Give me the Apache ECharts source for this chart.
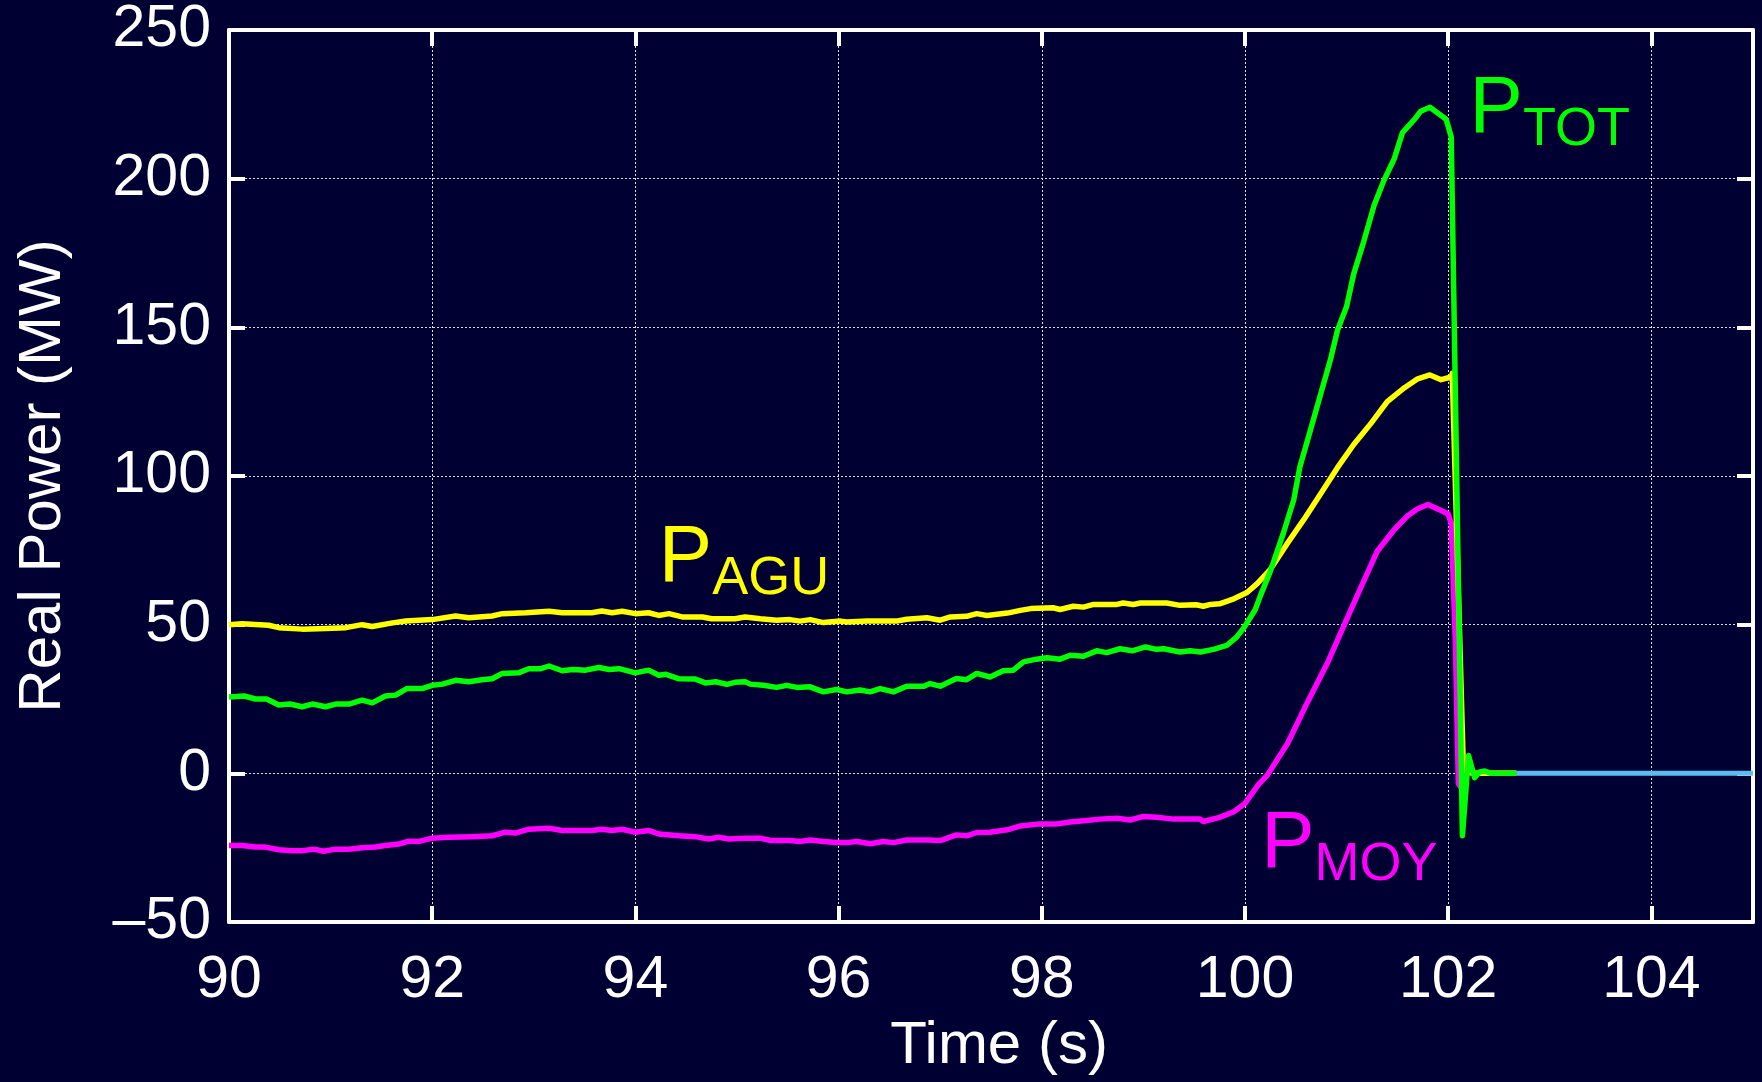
<!DOCTYPE html>
<html>
<head>
<meta charset="utf-8">
<script src="https://cdn.jsdelivr.net/npm/echarts@6/dist/echarts.min.js"></script>
<style>
html,body{margin:0;padding:0;background:#000033;}
#chart{width:1762px;height:1082px;}
</style>
</head>
<body>
<div id="chart"></div>
<script>
// Time (s) vs Real Power (MW)
const xTicks = [90, 92, 94, 96, 98, 100, 102, 104];
const yTicks = [-50, 0, 50, 100, 150, 200, 250];

const pAGU = [[90.0,50],[90.13,50.3],[90.39,49.8],[90.49,49],[90.72,48.5],[90.95,48.7],[91.15,49],[91.31,50],[91.41,49.4],[91.61,50.6],[91.74,51.2],[92.0,51.7],[92.23,52.9],[92.36,52.3],[92.59,52.9],[92.69,53.7],[92.92,54],[93.15,54.5],[93.28,54],[93.57,54],[93.67,54.6],[93.77,54],[93.87,54.5],[94.0,53.7],[94.13,54],[94.23,53.1],[94.33,53.7],[94.46,52.6],[94.66,52.6],[94.75,52],[94.98,52],[95.08,52.6],[95.23,52],[95.39,51.5],[95.52,51.7],[95.62,51.2],[95.72,51.7],[95.85,50.7],[96.02,51.2],[96.08,50.9],[96.28,51.2],[96.57,51.2],[96.67,51.8],[96.87,52.3],[97.0,51.5],[97.1,52.6],[97.26,52.8],[97.36,53.7],[97.46,53.1],[97.66,53.9],[97.79,54.8],[97.89,55.4],[98.11,55.7],[98.18,55.1],[98.31,56.2],[98.41,55.9],[98.51,56.8],[98.74,56.8],[98.8,57.3],[98.9,56.8],[98.97,57.3],[99.23,57.3],[99.36,56.5],[99.52,56.7],[99.59,56.2],[99.66,56.8],[99.75,57],[99.89,58.7],[100.02,60.8],[100.12,63.8],[100.25,68.6],[100.41,77],[100.58,85.4],[100.74,93.8],[100.91,102.8],[101.07,110.6],[101.24,117.7],[101.4,125],[101.57,129.7],[101.7,132.7],[101.82,134],[101.93,132.4],[102.03,133.3],[102.04,134.5],[102.15,1],[102.25,0],[102.67,0]];

const pMOY = [[90,-24.3],[90.13,-24.3],[90.26,-24.8],[90.36,-24.8],[90.49,-25.7],[90.62,-26],[90.72,-26],[90.84,-25.5],[90.93,-26.2],[91.05,-25.5],[91.18,-25.5],[91.31,-25],[91.44,-24.8],[91.54,-24.3],[91.67,-23.8],[91.77,-22.8],[91.87,-22.9],[92.0,-21.8],[92.16,-21.5],[92.39,-21.3],[92.59,-21],[92.72,-19.8],[92.82,-20.1],[92.95,-18.8],[93.15,-18.5],[93.28,-19.2],[93.57,-19.2],[93.67,-18.8],[93.77,-19.2],[93.87,-18.8],[94.0,-19.8],[94.13,-19.2],[94.23,-20.4],[94.43,-21],[94.59,-21.3],[94.72,-22.1],[94.82,-21.5],[94.92,-22.1],[95.08,-21.8],[95.23,-21.8],[95.33,-22.6],[95.52,-22.6],[95.62,-22.9],[95.72,-22.4],[95.85,-22.9],[95.98,-23.3],[96.08,-23.3],[96.18,-22.9],[96.31,-23.7],[96.44,-22.9],[96.54,-23.3],[96.67,-22.4],[96.87,-22.4],[97.0,-22.6],[97.16,-20.7],[97.26,-21],[97.36,-19.9],[97.49,-19.8],[97.66,-19],[97.79,-17.7],[97.98,-17],[98.15,-17],[98.28,-16.4],[98.44,-15.9],[98.57,-15.4],[98.74,-15.1],[98.87,-15.7],[99.0,-14.5],[99.13,-14.8],[99.3,-15.4],[99.56,-15.4],[99.59,-16.2],[99.75,-14.8],[99.89,-12.9],[100.0,-10.1],[100.13,-3.9],[100.22,-0.6],[100.42,10.1],[100.61,23.6],[100.81,37],[100.97,49.4],[101.14,62.5],[101.3,74.6],[101.47,82],[101.6,86.6],[101.7,89],[101.8,90.4],[101.93,88.4],[102.0,87.2],[102.03,84],[102.07,44.6],[102.1,-3.4],[102.13,-5],[102.18,0],[102.67,0]];

const pTOT = [[90,25.7],[90.15,26],[90.26,25],[90.37,25],[90.49,23],[90.6,23.3],[90.72,22.4],[90.82,23.3],[90.95,22.4],[91.05,23.3],[91.18,23.3],[91.31,24.6],[91.41,23.7],[91.54,26],[91.64,26.3],[91.75,28.5],[91.9,28.5],[92.0,29.6],[92.1,30],[92.23,31.3],[92.36,30.8],[92.49,31.5],[92.59,31.8],[92.69,33.6],[92.85,33.8],[92.95,35.2],[93.07,35.2],[93.15,36.1],[93.28,34.5],[93.38,34.9],[93.51,34.7],[93.64,35.6],[93.74,34.9],[93.84,35.2],[94.0,33.8],[94.13,34.7],[94.23,33],[94.3,33.3],[94.43,31.8],[94.59,31.7],[94.69,30.4],[94.79,30.8],[94.9,29.9],[94.98,30.6],[95.08,30.8],[95.13,30],[95.26,29.6],[95.39,28.9],[95.49,29.6],[95.59,28.9],[95.72,29.1],[95.85,27.4],[95.98,28.2],[96.08,27.4],[96.21,28],[96.31,27.4],[96.41,28.5],[96.54,27.4],[96.67,29.3],[96.84,29.3],[96.9,30.2],[97.0,29.3],[97.16,31.9],[97.26,31.5],[97.36,33.6],[97.49,32.4],[97.62,34.5],[97.72,34.7],[97.82,37.5],[97.95,38.4],[98.05,38.9],[98.18,38.4],[98.28,39.7],[98.41,39.4],[98.54,41.2],[98.64,40.6],[98.77,41.9],[98.89,41.2],[99.02,42.5],[99.13,41.7],[99.2,41.9],[99.36,40.8],[99.46,41.2],[99.56,40.8],[99.69,41.7],[99.82,43],[99.92,45.9],[100.0,49.5],[100.1,55],[100.15,59.6],[100.25,68],[100.38,81],[100.48,92],[100.54,103],[100.64,115],[100.74,127],[100.84,139],[100.91,149],[101.0,157],[101.07,168],[101.17,179],[101.27,191],[101.37,199.6],[101.47,206.8],[101.55,215.5],[101.67,220],[101.73,222.7],[101.82,224],[101.9,222],[101.98,220],[102.03,214],[102.14,-21],[102.2,6],[102.26,-1.5],[102.31,0.5],[102.36,0.8],[102.42,0],[102.67,0]];

const pZero = [[102.67,0],[105,0]];

// annotation labels: [main letter, subscript, anchor time, anchor MW (baseline), colour]
const labels = [
  ['P', 'TOT', 102.21, 213.7, '#00ff00'],
  ['P', 'AGU', 94.23, 62.7, '#ffff00'],
  ['P', 'MOY', 100.16, -33.5, '#ff00ff']
];

const FONT = '"Liberation Sans", Arial, Helvetica, sans-serif';
const WHITE = '#ffffff';
const chart = echarts.init(document.getElementById('chart'));

function axisLine() { return {show: true, onZero: false, lineStyle: {color: WHITE, width: 4}}; }
function axisTick() { return {show: true, inside: true, length: 16, lineStyle: {color: WHITE, width: 4}}; }
function gridLine() { return {show: true, lineStyle: {color: '#e0e0e0', width: 1, type: [2, 2]}}; }

const option = {
  backgroundColor: '#000033',
  animation: false,
  grid: {left: 229, top: 30, width: 1524, height: 892, containLabel: false},
  xAxis: [
    {
      type: 'value', position: 'bottom', min: 90, max: 105, interval: 2,
      name: 'Time (s)', nameLocation: 'middle', nameGap: 94,
      nameTextStyle: {color: WHITE, fontSize: 60, fontFamily: FONT, padding: [0, 0, 0, 16]},
      axisLine: axisLine(), axisTick: axisTick(),
      axisLabel: {color: WHITE, fontSize: 59, fontFamily: FONT, margin: 29, showMaxLabel: false,
        formatter: v => (xTicks.indexOf(v) >= 0 ? String(v) : '')},
      splitLine: gridLine()
    },
    {
      type: 'value', position: 'top', min: 90, max: 105, interval: 2,
      axisLine: axisLine(), axisTick: axisTick(),
      axisLabel: {show: false}, splitLine: {show: false}
    }
  ],
  yAxis: [
    {
      type: 'value', position: 'left', min: -50, max: 250, interval: 50,
      name: 'Real Power (MW)', nameLocation: 'middle', nameGap: 156,
      nameTextStyle: {color: WHITE, fontSize: 60, fontFamily: FONT},
      axisLine: axisLine(), axisTick: axisTick(),
      axisLabel: {color: WHITE, fontSize: 59, fontFamily: FONT, margin: 18,
        formatter: v => (yTicks.indexOf(v) >= 0 ? (v < 0 ? '\u2013' + Math.abs(v) : String(v)) : '')},
      splitLine: gridLine()
    },
    {
      type: 'value', position: 'right', min: -50, max: 250, interval: 50,
      axisLine: axisLine(), axisTick: axisTick(),
      axisLabel: {show: false}, splitLine: {show: false}
    }
  ],
  series: [
    {name: 'P_MOY', type: 'line', data: pMOY, showSymbol: false, lineStyle: {color: '#ff00ff', width: 5.5, join: 'round'}, z: 3},
    {name: 'P_AGU', type: 'line', data: pAGU, showSymbol: false, lineStyle: {color: '#ffff00', width: 5.5, join: 'round'}, z: 4},
    {name: 'P_TOT', type: 'line', data: pTOT, showSymbol: false, lineStyle: {color: '#00ff00', width: 5.5, join: 'round'}, z: 5},
    {name: 'P_0', type: 'line', data: pZero, showSymbol: false, lineStyle: {color: '#5cbcf0', width: 5}, z: 5}
  ]
};
chart.setOption(option);

// place annotation text at data coordinates
const PSIZE = 80, SSIZE = 54;
const graphics = [];
labels.forEach(function (l) {
  const pt = chart.convertToPixel({xAxisIndex: 0, yAxisIndex: 0}, [l[2], l[3]]);
  graphics.push({
    type: 'text', x: pt[0], y: pt[1] - 0.8465 * PSIZE, z: 10,
    style: {text: l[0], fill: l[4], font: PSIZE + 'px ' + FONT, textAlign: 'left', textVerticalAlign: 'top'}
  });
  graphics.push({
    type: 'text', x: pt[0] + 0.667 * PSIZE, y: pt[1] + 11 - 0.8465 * SSIZE, z: 10,
    style: {text: l[1], fill: l[4], font: SSIZE + 'px ' + FONT, textAlign: 'left', textVerticalAlign: 'top'}
  });
});
chart.setOption({graphic: graphics});
</script>
</body>
</html>
